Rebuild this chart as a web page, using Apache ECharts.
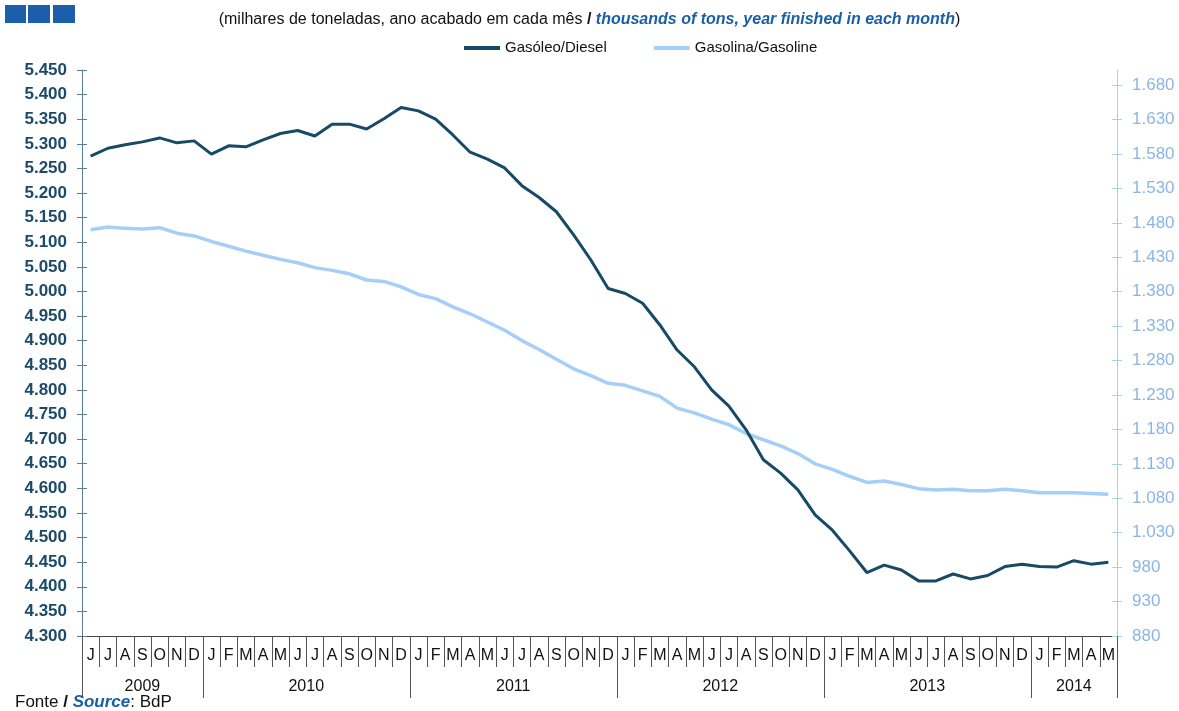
<!DOCTYPE html>
<html>
<head>
<meta charset="utf-8">
<script src="https://cdn.jsdelivr.net/npm/echarts@6/dist/echarts.min.js"></script>
<style>
  html, body { margin: 0; padding: 0; background: #ffffff; }
  #chart { width: 1179px; height: 711px; }
</style>
</head>
<body>
<div id="chart"></div>
<script>
// Months from June 2009 to May 2014 (one letter per month)
const monthLabels = [
  'J','J','A','S','O','N','D',
  'J','F','M','A','M','J','J','A','S','O','N','D',
  'J','F','M','A','M','J','J','A','S','O','N','D',
  'J','F','M','A','M','J','J','A','S','O','N','D',
  'J','F','M','A','M','J','J','A','S','O','N','D',
  'J','F','M','A','M'
];

// Year groups: label, first month index, last month index (exclusive)
const yearNames  = ['2009', '2010', '2011', '2012', '2013', '2014'];
const yearStarts = [0, 7, 19, 31, 43, 55];
const yearEnds   = [7, 19, 31, 43, 55, 60];

// Diesel sales, thousands of tons, 12-month rolling total (left axis)
const diesel = [
  5275, 5291, 5298, 5304, 5312, 5302, 5306,
  5279, 5296, 5294, 5308, 5321, 5327, 5316, 5340, 5340, 5330, 5351, 5374,
  5367, 5350, 5318, 5283, 5269, 5251, 5215, 5191, 5162, 5115, 5064, 5006,
  4996, 4976, 4932, 4881, 4847, 4800, 4767, 4719, 4658, 4631, 4597, 4546,
  4515, 4473, 4429, 4444, 4434, 4412, 4412, 4426, 4416, 4423, 4441, 4446,
  4441, 4440, 4453, 4446, 4450
];

// Gasoline sales, thousands of tons, 12-month rolling total (right axis)
const gasoline = [
  1470, 1474, 1472, 1471, 1473, 1465, 1461,
  1453, 1446, 1439, 1433, 1427, 1422, 1415, 1411, 1406, 1397, 1395, 1387,
  1376, 1370, 1358, 1348, 1336, 1324, 1309, 1296, 1282, 1268, 1258, 1247,
  1244, 1236, 1228, 1211, 1204, 1195, 1187, 1174, 1165, 1156, 1145, 1130,
  1122, 1112, 1103, 1105, 1100, 1094, 1092, 1093, 1091, 1091, 1093, 1091,
  1088, 1088, 1088, 1087, 1086
];

// Right-axis tick values
const rightTicks = [880, 930, 980, 1030, 1080, 1130, 1180, 1230, 1280, 1330,
                    1380, 1430, 1480, 1530, 1580, 1630, 1680];

const FONT = '"Liberation Sans", Arial, sans-serif';
const DIESEL_COLOR = '#174a66';
const GAS_COLOR = '#a5cff8';
const LEFT_AXIS_COLOR = '#5b7f98';
const RIGHT_AXIS_COLOR = '#a9cdf0';

// Thousands separator as a dot: 5450 -> "5.450"
function fmt(v) {
  return String(Math.round(v)).replace(/\B(?=(\d{3})+(?!\d))/g, '.');
}

const yearCenters = yearStarts.map((s, i) => (s + yearEnds[i]) / 2);
const yearBounds = yearStarts.concat([yearEnds[yearEnds.length - 1]]);

const chart = echarts.init(document.getElementById('chart'), null, { renderer: 'canvas' });

const option = {
  backgroundColor: '#ffffff',
  animation: false,
  textStyle: { fontFamily: FONT },
  title: [
    {
      left: 'center',
      top: 7,
      text: '{a|(milhares de toneladas, ano acabado em cada mês }{s|/ }{b|thousands of tons, year finished in each month}{a|)}',
      textStyle: {
        fontWeight: 'normal',
        rich: {
          a: { fontFamily: FONT, fontSize: 16, color: '#111111', fontWeight: 'normal' },
          s: { fontFamily: FONT, fontSize: 16, color: '#111111', fontWeight: 'bold' },
          b: { fontFamily: FONT, fontSize: 16, color: '#1a5fa6', fontWeight: 'bold', fontStyle: 'italic' }
        }
      }
    },
    {
      left: 10,
      top: 689,
      text: '{a|Fonte }{s|/ }{b|Source}{a|: BdP}',
      textStyle: {
        fontWeight: 'normal',
        rich: {
          a: { fontFamily: FONT, fontSize: 17, color: '#111111', fontWeight: 'normal' },
          s: { fontFamily: FONT, fontSize: 17, color: '#111111', fontWeight: 'bold' },
          b: { fontFamily: FONT, fontSize: 17, color: '#1a5fa6', fontWeight: 'bold', fontStyle: 'italic' }
        }
      }
    }
  ],
  graphic: [
    { type: 'rect', left: 5,  top: 5, shape: { width: 21, height: 18 }, style: { fill: '#1b5ea9' } },
    { type: 'rect', left: 28, top: 5, shape: { width: 22, height: 18 }, style: { fill: '#1b5ea9' } },
    { type: 'rect', left: 53, top: 5, shape: { width: 22, height: 18 }, style: { fill: '#1b5ea9' } }
  ],
  legend: {
    top: 35,
    left: 459,
    itemWidth: 36,
    itemHeight: 4,
    itemGap: 47,
    data: ['Gasóleo/Diesel', 'Gasolina/Gasoline'],
    textStyle: { fontFamily: FONT, fontSize: 15, color: '#111111', lineHeight: 16 },
    icon: 'rect'
  },
  grid: { left: 82, right: 62, top: 70, bottom: 75, containLabel: false },
  xAxis: [
    {
      type: 'category',
      data: monthLabels,
      boundaryGap: true,
      position: 'bottom',
      axisLine: { show: true, lineStyle: { color: '#444444', width: 1 } },
      axisTick: { show: true, interval: 0, length: 31, lineStyle: { color: '#555555', width: 1 } },
      axisLabel: { interval: 0, margin: 12, fontFamily: FONT, fontSize: 16, color: '#111111' },
      splitLine: { show: false }
    },
    {
      type: 'value',
      min: 0,
      max: monthLabels.length,
      position: 'bottom',
      axisLine: { show: false },
      axisTick: {
        show: true,
        length: 62,
        customValues: yearBounds,
        lineStyle: { color: '#555555', width: 1 }
      },
      axisLabel: {
        show: true,
        margin: 43,
        customValues: yearCenters,
        fontFamily: FONT,
        fontSize: 16,
        color: '#111111',
        formatter: function (v) {
          const i = yearCenters.indexOf(v);
          return i >= 0 ? yearNames[i] : '';
        }
      },
      splitLine: { show: false }
    }
  ],
  yAxis: [
    {
      type: 'value',
      position: 'left',
      min: 4300,
      max: 5450,
      interval: 50,
      axisLine: { show: true, lineStyle: { color: LEFT_AXIS_COLOR, width: 1 } },
      axisTick: { show: true, length: 5, lineStyle: { color: LEFT_AXIS_COLOR } },
      axisLabel: { margin: 15, fontFamily: FONT, fontSize: 17, fontWeight: 'bold', color: '#1b4a6a', formatter: fmt },
      splitLine: { show: false }
    },
    {
      type: 'value',
      position: 'right',
      min: 880,
      max: 1702,
      interval: 50,
      axisLine: { show: true, lineStyle: { color: RIGHT_AXIS_COLOR, width: 1 } },
      axisTick: { show: true, length: 5, customValues: rightTicks, lineStyle: { color: RIGHT_AXIS_COLOR } },
      axisLabel: { margin: 15, customValues: rightTicks, fontFamily: FONT, fontSize: 17, color: '#8db5e3', formatter: fmt },
      splitLine: { show: false }
    },
    {
      // inner half of the left tick marks
      type: 'value',
      position: 'left',
      min: 4300,
      max: 5450,
      interval: 50,
      axisLine: { show: false },
      axisTick: { show: true, inside: true, length: 5, lineStyle: { color: LEFT_AXIS_COLOR } },
      axisLabel: { show: false },
      splitLine: { show: false }
    },
    {
      // inner half of the right tick marks
      type: 'value',
      position: 'right',
      min: 880,
      max: 1702,
      interval: 50,
      axisLine: { show: false },
      axisTick: { show: true, inside: true, length: 5, customValues: rightTicks, lineStyle: { color: RIGHT_AXIS_COLOR } },
      axisLabel: { show: false },
      splitLine: { show: false }
    }
  ],
  series: [
    {
      name: 'Gasolina/Gasoline',
      type: 'line',
      xAxisIndex: 0,
      yAxisIndex: 1,
      data: gasoline,
      symbol: 'none',
      lineStyle: { color: GAS_COLOR, width: 3.5 },
      itemStyle: { color: GAS_COLOR },
      z: 2
    },
    {
      name: 'Gasóleo/Diesel',
      type: 'line',
      xAxisIndex: 0,
      yAxisIndex: 0,
      data: diesel,
      symbol: 'none',
      lineStyle: { color: DIESEL_COLOR, width: 3 },
      itemStyle: { color: DIESEL_COLOR },
      z: 3
    }
  ]
};

chart.setOption(option);
</script>
</body>
</html>
